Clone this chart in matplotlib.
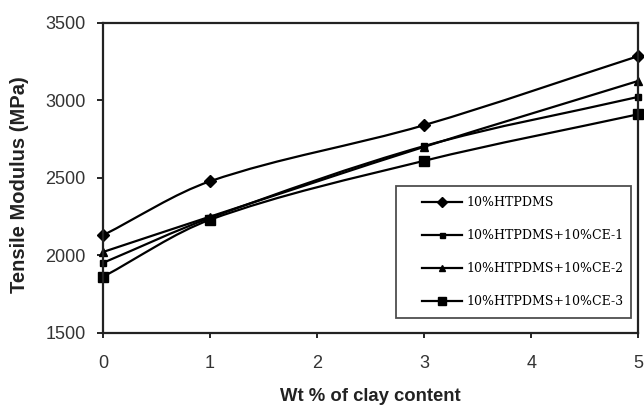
import numpy as np
import matplotlib
matplotlib.use('Agg')
import matplotlib.pyplot as plt
from matplotlib.path import Path
from matplotlib.patches import PathPatch
from matplotlib.lines import Line2D
from matplotlib.legend_handler import HandlerLine2D

# clay content (wt %)
clay = [0, 1, 3, 5]

# tensile modulus (MPa) for each formulation
htpdms = [2130, 2478, 2840, 3285]
htpdms_ce1 = [1952, 2242, 2705, 3022]
htpdms_ce2 = [2022, 2250, 2700, 3125]
htpdms_ce3 = [1862, 2230, 2610, 2910]

labels = ['10%HTPDMS', '10%HTPDMS+10%CE-1', '10%HTPDMS+10%CE-2', '10%HTPDMS+10%CE-3']
series = [htpdms, htpdms_ce1, htpdms_ce2, htpdms_ce3]
markers = ['D', 's', '^', 's']
msizes = [6, 4.5, 5.5, 7]

yticks = [1500, 2000, 2500, 3000, 3500]
xticks = [0, 1, 2, 3, 4, 5]


def smooth_path(xs, ys):
    # cubic hermite/bezier through the points, smoothed-line look
    x = np.asarray(xs, float)
    y = np.asarray(ys, float)
    n = len(x)
    m = np.empty(n)
    m[0] = (y[1] - y[0]) / (x[1] - x[0])
    m[-1] = (y[-1] - y[-2]) / (x[-1] - x[-2])
    for i in range(1, n - 1):
        m[i] = (y[i + 1] - y[i - 1]) / (x[i + 1] - x[i - 1])
    verts = [(x[0], y[0])]
    codes = [Path.MOVETO]
    for i in range(n - 1):
        h = (x[i + 1] - x[i]) / 3
        verts += [(x[i] + h, y[i] + m[i] * h),
                  (x[i + 1] - h, y[i + 1] - m[i + 1] * h),
                  (x[i + 1], y[i + 1])]
        codes += [Path.CURVE4] * 3
    return Path(verts, codes)


fig = plt.figure(figsize=(6.44, 4.07), dpi=100)
ax = fig.add_axes([0.16, 0.182, 0.831, 0.762])

handles = []
for ys, m, ms, lab in zip(series, markers, msizes, labels):
    ax.add_patch(PathPatch(smooth_path(clay, ys), fill=False, edgecolor='black', lw=1.6))
    ax.plot(clay, ys, linestyle='none', marker=m, markersize=ms, color='black', clip_on=False)
    handles.append(Line2D([], [], color='black', lw=1.6, marker=m, markersize=ms * 0.8))

ax.set_xlim(0, 5)
ax.set_ylim(1500, 3500)
ax.set_xticks(xticks)
ax.set_yticks(yticks)

for s in ax.spines.values():
    s.set_linewidth(1.6)
    s.set_color('#222222')

ax.tick_params(axis='y', direction='out', length=4.5, width=1.2, pad=8,
               labelsize=13, labelcolor='#333333')
ax.tick_params(axis='x', direction='out', length=3.6, width=1.2, pad=12,
               labelsize=13, labelcolor='#333333')
for t in ax.get_xticklabels() + ax.get_yticklabels():
    t.set_fontfamily('Liberation Sans')

ax.set_xlabel('Wt % of clay content', fontsize=13.3, fontweight='bold',
              family='Liberation Sans', color='#222222')
ax.xaxis.set_label_coords(0.5, -0.177)
ax.set_ylabel('Tensile Modulus (MPa)', fontsize=14.5, fontweight='bold',
              family='Liberation Sans', color='#222222')
ax.yaxis.set_label_coords(-0.138, 0.477)

leg = ax.legend(handles, labels, loc='lower left',
                bbox_to_anchor=(0.548, 0.048, 0.439, 0.426), mode='expand',
                prop={'family': 'DejaVu Serif', 'size': 9},
                handler_map={Line2D: HandlerLine2D(xpad=1.28)},
                handlelength=4.48, handletextpad=0.3, labelspacing=1.6,
                borderpad=0.8, borderaxespad=0, fancybox=False)
leg.get_frame().set_edgecolor('#222222')
leg.get_frame().set_linewidth(1.3)

fig.savefig('out.png', dpi=100)
